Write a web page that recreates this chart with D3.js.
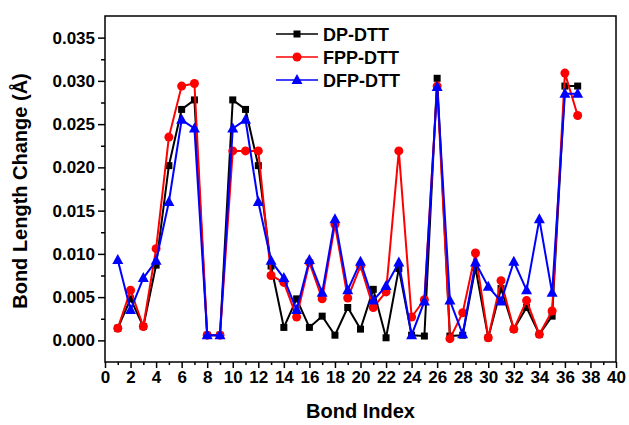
<!DOCTYPE html>
<html>
<head>
<meta charset="utf-8">
<script src="https://cdn.jsdelivr.net/npm/d3@7"></script>
<style>
    body { margin: 0; background: #fff; }
    svg { display: block; font-family: "Liberation Sans", Arial, sans-serif; font-weight: bold; }
</style>
</head>
<body>
<svg id="chart"></svg>
<script>
(function() {

    // Data.
    const bondIndex = [1, 2, 3, 4, 5, 6, 7, 8, 9, 10, 11, 12, 13, 14, 15, 16, 17, 18, 19,
        20, 21, 22, 23, 24, 25, 26, 27, 28, 29, 30, 31, 32, 33, 34, 35, 36, 37];

    const dpDtt = [0.0014, 0.0048, 0.0016, 0.0087, 0.0202, 0.0267, 0.0278, 0.0006, 0.0006, 0.0278,
        0.0267, 0.0202, 0.0086, 0.0015, 0.0048, 0.0015, 0.0028, 0.0006, 0.0038, 0.0013,
        0.0059, 0.0003, 0.0083, 0.0006, 0.0005, 0.0303, 0.0005, 0.0006, 0.0084, 0.0003,
        0.0060, 0.0013, 0.0038, 0.0007, 0.0028, 0.0294, 0.0294];

    const fppDtt = [0.0014, 0.0058, 0.0016, 0.0106, 0.0235, 0.0294, 0.0297, 0.0006, 0.0006, 0.0219,
        0.0219, 0.0219, 0.0075, 0.0067, 0.0027, 0.0090, 0.0048, 0.0134, 0.0049, 0.0086,
        0.0038, 0.0056, 0.0219, 0.0027, 0.0047, 0.0294, 0.0002, 0.0032, 0.0101, 0.0003,
        0.0069, 0.0013, 0.0046, 0.0007, 0.0034, 0.0309, 0.0260];

    const dfpDtt = [0.0093, 0.0035, 0.0072, 0.0092, 0.0160, 0.0255, 0.0245, 0.0006, 0.0006, 0.0245,
        0.0255, 0.0160, 0.0092, 0.0072, 0.0035, 0.0093, 0.0055, 0.0140, 0.0058, 0.0091,
        0.0046, 0.0063, 0.0090, 0.0006, 0.0045, 0.0293, 0.0046, 0.0007, 0.0090, 0.0062,
        0.0045, 0.0091, 0.0058, 0.0140, 0.0055, 0.0285, 0.0285];

    const seriesNames = ['DP-DTT', 'FPP-DTT', 'DFP-DTT'];
    const seriesColors = ['#000000', '#ff0000', '#0000ff'];
    const seriesMarkers = ['square', 'circle', 'triangle'];

    const xTicks = d3.range(0, 41, 2);
    const yTicks = [0, 0.005, 0.010, 0.015, 0.020, 0.025, 0.030, 0.035];

    const w = 629;
    const h = 425;
    const margin = {top: 16, right: 13, bottom: 63, left: 105};

    const scaleX = d3.scaleLinear().domain([0, 40]).range([margin.left, w - margin.right]);
    const scaleY = d3.scaleLinear().domain([-0.0025, 0.0375]).range([h - margin.bottom, margin.top]);

    const svg = d3.select('#chart').attr('width', w).attr('height', h);

    // Frame
    svg.append('rect')
        .attr('x', scaleX(0)).attr('y', scaleY(0.0375))
        .attr('width', scaleX(40) - scaleX(0))
        .attr('height', scaleY(-0.0025) - scaleY(0.0375))
        .attr('fill', 'none').attr('stroke', '#000').attr('stroke-width', 1.5);

    // Minor ticks
    const xMinor = d3.axisBottom(scaleX).tickValues(d3.range(1, 40, 2)).tickSize(3).tickFormat('');
    const yMinor = d3.axisLeft(scaleY).tickValues(d3.range(0.0025, 0.035, 0.005)).tickSize(4).tickFormat('');

    const xAxis = d3.axisBottom(scaleX).tickValues(xTicks).tickSize(6).tickPadding(3).tickFormat(d3.format('d'));
    const yAxis = d3.axisLeft(scaleY).tickValues(yTicks).tickSize(7).tickPadding(3).tickFormat(d3.format('.3f'));

    [xMinor, xAxis].forEach(a => svg.append('g')
        .attr('class', 'axis')
        .attr('transform', `translate(0, ${h - margin.bottom})`)
        .call(a));

    [yMinor, yAxis].forEach(a => svg.append('g')
        .attr('class', 'axis')
        .attr('transform', `translate(${margin.left}, 0)`)
        .call(a));

    svg.selectAll('.axis .domain').remove();
    svg.selectAll('.axis line').attr('stroke', '#000').attr('stroke-width', 1.5);
    svg.selectAll('.axis text')
        .attr('fill', '#000')
        .style('font-size', '17px')
        .style('font-weight', 'bold');

    // Axis titles
    svg.append('text')
        .attr('x', (scaleX(0) + scaleX(40)) / 2)
        .attr('y', 418)
        .attr('text-anchor', 'middle')
        .style('font-size', '20px')
        .text('Bond Index');

    svg.append('text')
        .attr('transform', `translate(27, ${(scaleY(-0.0025) + scaleY(0.0375)) / 2 + 2}) rotate(-90)`)
        .attr('text-anchor', 'middle')
        .style('font-size', '20px')
        .text('Bond Length Change (Å)');

    const drawMarker = (g, type, color, x, y) => {
        if (type === 'square') {
            g.append('rect').attr('x', x - 3.5).attr('y', y - 3.5).attr('width', 7).attr('height', 7).attr('fill', color);
        } else if (type === 'circle') {
            g.append('circle').attr('cx', x).attr('cy', y).attr('r', 4.5).attr('fill', color);
        } else {
            g.append('path').attr('d', `M${x},${y - 6}L${x + 5.5},${y + 4}L${x - 5.5},${y + 4}Z`).attr('fill', color);
        }
    };

    const allSeries = [dpDtt, fppDtt, dfpDtt];
    const line = d3.line().x(d => scaleX(d[0])).y(d => scaleY(d[1]));

    allSeries.forEach((values, i) => {
        const pts = bondIndex.map((b, j) => [b, values[j]]);
        const g = svg.append('g');
        g.append('path')
            .attr('d', line(pts))
            .attr('fill', 'none')
            .attr('stroke', seriesColors[i])
            .attr('stroke-width', 2);
        pts.forEach(p => drawMarker(g, seriesMarkers[i], seriesColors[i], scaleX(p[0]), scaleY(p[1])));
    });

    // Legend
    const legend = svg.append('g');
    seriesNames.forEach((name, i) => {
        const y = 34 + i * 23;
        legend.append('line')
            .attr('x1', 276).attr('x2', 318).attr('y1', y).attr('y2', y)
            .attr('stroke', seriesColors[i]).attr('stroke-width', 1.5);
        drawMarker(legend, seriesMarkers[i], seriesColors[i], 297, y);
        legend.append('text')
            .attr('x', 323).attr('y', y + 6.5)
            .style('font-size', '18px')
            .text(name);
    });

})();
</script>
</body>
</html>
